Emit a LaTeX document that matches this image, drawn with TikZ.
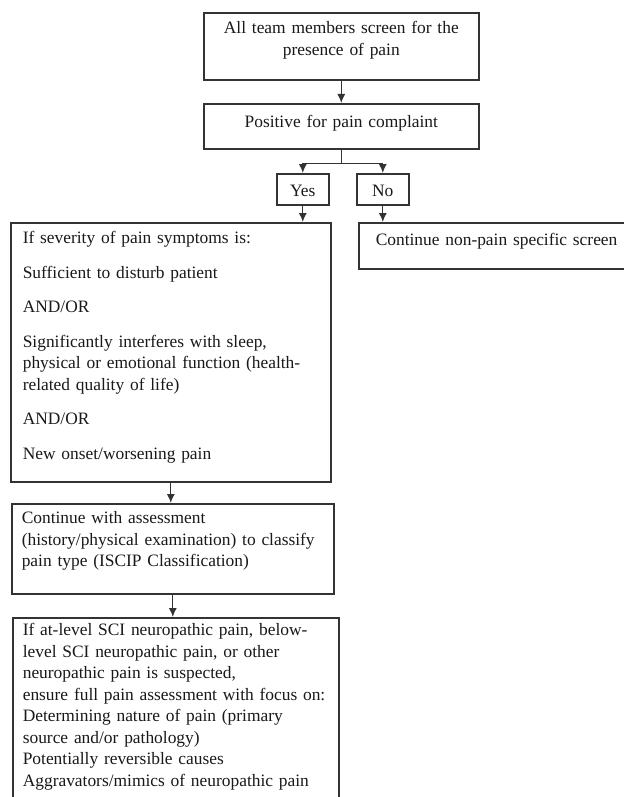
\documentclass[tikz,border=0pt]{standalone}
\usepackage{fontspec}
\setmainfont{Liberation Serif}
\usetikzlibrary{arrows.meta}

\begin{document}
\begin{tikzpicture}[
  x=0.5pt, y=-0.5pt,
  every node/.style={rectangle, draw=black!80, line width=0.8pt, anchor=north west, inner xsep=6pt, inner ysep=0pt, align=left, text=black!90, font=\fontsize{8.7}{10.75}\selectfont, fill=white},
  line/.style={-{Latex[length=4.5pt,width=4pt]}, line width=0.6pt, draw=black!80}
]
\useasboundingbox (0,0) rectangle (624,797);
\clip (0,0) rectangle (624,797);

\node (screen) at (203,12) [text width=125.5pt, align=center, text height=10.5pt, text depth=23pt] {All team members screen for the\\
presence of pain};

\node (positive) at (203,103) [text width=125.5pt, align=center, text height=12pt, text depth=10.5pt] {Positive for pain complaint};

\node (yes) at (276,173) [inner xsep=0pt, text width=26pt, align=center, text height=11.5pt, text depth=4pt] {Yes};
\node (no) at (356,173) [inner xsep=0pt, text width=26pt, align=center, text height=11.5pt, text depth=4pt] {No};

\node (severity) at (10,222) [text width=148pt, text height=10.5pt, text depth=119pt] {If severity of pain symptoms is:\\[6.5pt]
Sufficient to disturb patient\\[6.5pt]
AND/OR\\[6.5pt]
Significantly interferes with sleep,\\
physical or emotional function (health-\\
related quality of life)\\[6.5pt]
AND/OR\\[6.5pt]
New onset/worsening pain};

\node (nonpain) at (358,222) [inner xsep=8.5pt, text width=133pt, text height=11.5pt, text depth=11.5pt] {Continue non-pain specific screen};

\node (assess) at (11,503) [inner xsep=5pt, text width=151pt, text height=10pt, text depth=35pt] {Continue with assessment\\
\mbox{(history/physical examination) to classify}\\
pain type (ISCIP Classification)};

\node (suspect) at (12,617) [inner xsep=5pt, text width=153pt, text height=9pt, text depth=97.5pt] {If at-level SCI neuropathic pain, below-\\
level SCI neuropathic pain, or other\\
neuropathic pain is suspected,\\
\mbox{ensure full pain assessment with focus on:}\\
Determining nature of pain (primary\\
source and/or pathology)\\
Potentially reversible causes\\
Aggravators/mimics of neuropathic pain};

% Arrows
\draw [line] (screen) -- (positive);
\draw [line] (positive.south) -- ++(0,14) coordinate (split) -| (yes.north);
\draw [line] (split) -| (no.north);
\draw [line] (yes.south) -- (yes.south |- severity.north);
\draw [line] (no.south) -- (no.south |- nonpain.north);
\draw [line] (severity.south) -- (severity.south |- assess.north);
\draw [line] (assess.south) -- (assess.south |- suspect.north);

\end{tikzpicture}
\end{document}
